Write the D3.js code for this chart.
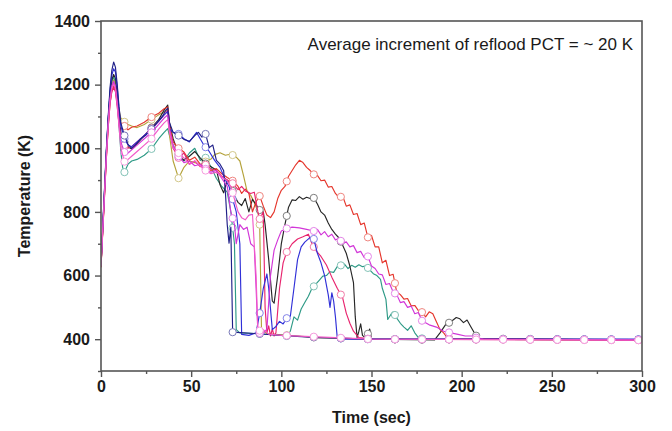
<!DOCTYPE html>
<html>
<head>
<meta charset="utf-8">
<script src="https://cdn.jsdelivr.net/npm/d3@7"></script>
<style>
  body { margin: 0; background: #fff; }
  svg { display: block; font-family: "Liberation Sans", Arial, sans-serif; }
</style>
</head>
<body>
<svg id="chart" width="672" height="431"></svg>
<script>
// ---- data (time in s, cladding temperature in K) ----
const xMajor = [0, 50, 100, 150, 200, 250, 300];
const xMinor = [25, 75, 125, 175, 225, 275];
const yMajor = [400, 600, 800, 1000, 1200, 1400];
const yMinor = [300, 500, 700, 900, 1100, 1300];
const markerTimes = [13, 28, 43, 58, 73, 88, 103, 118, 133, 148, 163, 178, 193, 208, 223, 238, 253, 268, 283, 298];

const tealData = [[0,630],[1,750],[2,870],[3,990],[4,1090],[5,1170],[6,1210],[7,1225],[8,1205],[9,1150],[10,1070],[11,990],[12,940],[13,925],[15,950],[17,960],[20,965],[24,978],[28,998],[32,1030],[35,1050],[37,1062],[38,1040],[40,1010],[43,975],[46,960],[49,985],[52,1000],[55,962],[58,970],[61,942],[64,905],[67,880],[70,862],[72,800],[74,700],[75,430],[77,420],[85,418],[95,414],[103,410],[105,425],[107,470],[109,460],[111,495],[113,515],[115,535],[117,560],[119,572],[121,585],[123,598],[125,600],[127,612],[129,610],[131,628],[133,632],[135,636],[137,622],[139,632],[141,626],[143,634],[145,628],[147,630],[149,618],[151,606],[153,600],[155,588],[156,560],[158,525],[159,462],[161,480],[162,486],[164,466],[166,450],[168,438],[170,428],[172,442],[174,420],[176,405],[180,400],[300,398]];

const oliveData = [[0,628],[1,745],[2,862],[3,980],[4,1080],[5,1160],[6,1200],[7,1215],[8,1200],[9,1160],[10,1120],[11,1095],[13,1083],[15,1075],[17,1070],[20,1065],[24,1075],[28,1090],[32,1105],[35,1115],[37,1122],[38,1040],[40,960],[43,906],[46,940],[49,960],[52,955],[55,948],[58,958],[61,966],[63,980],[66,986],[69,978],[72,982],[75,972],[77,960],[79,915],[81,865],[83,852],[85,830],[87,800],[88,760],[89,430],[92,418],[100,414],[120,405],[150,400],[300,398]];

const blackData = [[0,630],[1,750],[2,870],[3,990],[4,1090],[5,1170],[6,1215],[7,1232],[8,1220],[9,1170],[10,1100],[11,1050],[13,1020],[15,1005],[17,998],[20,1015],[24,1040],[28,1065],[32,1090],[35,1120],[37,1136],[38,1080],[40,1030],[43,982],[46,962],[49,975],[52,990],[55,970],[58,952],[61,942],[64,932],[66,885],[68,860],[70,900],[72,882],[74,850],[76,830],[78,820],[80,842],[82,800],[84,840],[86,822],[88,806],[90,800],[91,760],[93,650],[95,520],[96,513],[98,600],[100,700],[102,760],[104,815],[106,838],[108,836],[110,848],[112,840],[114,846],[116,842],[118,844],[120,825],[122,800],[124,790],[126,765],[128,745],[130,730],[132,718],[134,695],[136,670],[138,630],[140,578],[141,470],[142,405],[143,425],[144,448],[145,412],[147,402],[149,432],[150,400],[185,398],[188,420],[191,445],[194,455],[197,468],[199,464],[201,452],[203,460],[205,440],[207,420],[209,402],[300,398]];

const redData = [[0,625],[1,740],[2,855],[3,970],[4,1065],[5,1140],[6,1180],[7,1196],[8,1185],[9,1140],[10,1100],[11,1078],[13,1070],[15,1058],[17,1066],[20,1070],[24,1082],[28,1098],[32,1110],[35,1124],[37,1130],[38,1070],[40,1020],[43,1000],[46,988],[49,962],[52,972],[55,950],[58,942],[61,930],[64,936],[67,920],[70,908],[73,898],[76,880],[78,858],[80,872],[82,858],[84,800],[86,832],[88,850],[90,818],[92,790],[94,782],[96,800],[98,842],[100,868],[102,880],[104,912],[106,930],[108,948],[110,962],[112,955],[114,940],[116,930],[118,918],[120,915],[122,898],[124,900],[126,878],[128,880],[130,858],[132,845],[134,850],[136,818],[138,822],[140,792],[142,795],[144,760],[146,765],[148,720],[150,726],[152,690],[154,690],[156,640],[158,648],[160,600],[162,604],[164,548],[166,540],[168,526],[170,528],[172,505],[174,506],[176,490],[178,485],[180,470],[182,486],[184,480],[186,455],[188,430],[190,420],[192,405],[195,400],[300,398]];

const magentaData = [[0,632],[1,748],[2,865],[3,982],[4,1080],[5,1155],[6,1195],[7,1210],[8,1195],[9,1145],[10,1080],[11,1020],[13,988],[15,985],[17,995],[20,1010],[24,1030],[28,1050],[32,1075],[35,1095],[37,1105],[38,1060],[40,1010],[43,975],[46,955],[49,960],[52,945],[55,950],[58,935],[61,925],[64,930],[67,905],[70,880],[72,800],[74,760],[75,700],[77,760],[79,745],[81,752],[83,700],[85,690],[86,560],[87,420],[90,418],[92,432],[94,600],[96,680],[98,712],[100,740],[103,748],[106,752],[110,750],[114,745],[118,740],[120,745],[122,728],[124,738],[126,722],[128,730],[130,712],[132,718],[134,700],[136,706],[138,690],[140,694],[142,672],[144,676],[146,656],[148,660],[150,630],[152,622],[154,605],[156,602],[158,572],[160,575],[162,548],[164,540],[166,515],[168,518],[170,500],[172,504],[174,480],[176,484],[178,458],[182,445],[186,438],[190,425],[194,420],[198,415],[202,410],[206,410],[209,402],[212,400],[300,398]];

const crimsonData = [[0,628],[1,742],[2,857],[3,972],[4,1068],[5,1140],[6,1178],[7,1190],[8,1178],[9,1130],[10,1075],[11,1035],[13,1010],[15,1000],[17,1005],[20,1020],[24,1040],[28,1062],[32,1085],[35,1105],[37,1118],[38,1060],[40,1000],[43,970],[46,985],[49,950],[52,960],[55,942],[58,948],[61,935],[64,930],[67,912],[70,900],[73,890],[76,870],[78,880],[80,866],[83,858],[85,862],[87,800],[88,778],[90,800],[91,500],[92,420],[93,442],[94,410],[95,432],[96,410],[97,420],[99,560],[101,640],[103,674],[106,700],[109,715],[112,722],[115,730],[117,700],[119,680],[122,660],[125,633],[128,595],[131,560],[134,530],[136,482],[138,450],[140,425],[143,405],[150,400],[300,397]];

const blueData = [[0,635],[1,755],[2,875],[3,995],[4,1095],[5,1180],[6,1230],[7,1250],[8,1240],[9,1190],[10,1120],[11,1070],[13,1030],[15,1010],[17,1005],[20,1020],[24,1040],[28,1060],[32,1085],[35,1105],[37,1115],[38,1060],[40,1050],[43,1045],[46,1030],[49,1020],[51,1035],[53,1050],[55,1030],[57,1010],[60,990],[63,962],[66,940],[69,900],[71,880],[73,840],[75,800],[77,700],[78,415],[82,412],[86,420],[88,482],[90,560],[92,605],[93,560],[95,430],[97,440],[99,456],[101,448],[103,466],[105,472],[107,560],[109,650],[111,690],[113,705],[116,720],[118,715],[120,670],[122,640],[124,600],[126,540],[127,500],[128,546],[129,520],[130,470],[131,405],[135,400],[300,400]];

const navyData = [[0,640],[1,760],[2,880],[3,1000],[4,1100],[5,1190],[6,1245],[7,1271],[8,1255],[9,1200],[10,1130],[11,1080],[13,1040],[15,1012],[17,1000],[19,1010],[22,1030],[25,1042],[28,1060],[31,1080],[34,1100],[36,1120],[37,1126],[38,1080],[40,1050],[43,1040],[46,1028],[49,1022],[52,1040],[54,1050],[56,1035],[58,1045],[60,1002],[62,1010],[64,962],[66,950],[68,930],[69,860],[70,760],[71,702],[72,752],[73,422],[85,418],[100,412],[120,405],[150,400],[300,399]];

const hotpinkData = [[0,630],[1,746],[2,862],[3,978],[4,1075],[5,1150],[6,1188],[7,1202],[8,1188],[9,1135],[10,1068],[11,1000],[13,958],[15,965],[17,975],[20,990],[24,1010],[28,1030],[32,1060],[35,1080],[37,1090],[38,1050],[40,1000],[43,985],[46,970],[49,950],[52,960],[55,945],[58,930],[61,920],[64,925],[67,910],[70,898],[72,880],[74,840],[76,800],[78,782],[80,775],[82,790],[84,792],[86,600],[87,425],[90,430],[93,416],[100,412],[130,405],[150,400],[300,397]];

const seriesList = [
    { name: "teal", color: "#2e9a86", data: tealData },
    { name: "olive", color: "#b4a23a", data: oliveData },
    { name: "black", color: "#262626", data: blackData },
    { name: "red", color: "#e5362c", data: redData },
    { name: "crimson", color: "#e8246e", data: crimsonData },
    { name: "blue", color: "#3030d8", data: blueData },
    { name: "navy", color: "#202088", data: navyData },
    { name: "magenta", color: "#d236d8", data: magentaData },
    { name: "hotpink", color: "#f25ac8", data: hotpinkData }
];

// ---- layout ----
const margin = { top: 21, right: 30, bottom: 60, left: 101 };
const width = 672, height = 431;
const svg = d3.select("#chart");

const x = d3.scaleLinear().domain([0, 300]).range([margin.left, width - margin.right]);
const y = d3.scaleLinear().domain([300, 1400]).range([height - margin.bottom, margin.top]);

const axisColor = "#555";

// value of a series at time t (for the open-circle markers)
function valueAt(data, t) {
    let i = d3.bisector(d => d[0]).left(data, t);
    if (i <= 0) return data[0][1];
    if (i >= data.length) return data[data.length - 1][1];
    let a = data[i - 1], b = data[i];
    return a[1] + (b[1] - a[1]) * (t - a[0]) / (b[0] - a[0]);
}

const line = d3.line().x(d => x(d[0])).y(d => y(d[1]));

// clip so nothing leaks over the frame
svg.append("clipPath").attr("id", "clip")
    .append("rect")
    .attr("x", x(0)).attr("y", y(1400))
    .attr("width", x(300) - x(0)).attr("height", y(300) - y(1400));

const plot = svg.append("g").attr("clip-path", "url(#clip)");

seriesList.forEach(s => {
    plot.append("path")
        .datum(s.data)
        .attr("fill", "none")
        .attr("stroke", s.color)
        .attr("stroke-width", 1.15)
        .attr("stroke-linejoin", "round")
        .attr("d", line);

    let light = d3.interpolateRgb(s.color, "#ffffff")(0.4);
    plot.selectAll(null)
        .data(markerTimes)
        .enter()
        .append("circle")
        .attr("cx", t => x(t))
        .attr("cy", t => y(valueAt(s.data, t)))
        .attr("r", 3.6)
        .attr("fill", "#fff")
        .attr("stroke", light)
        .attr("stroke-width", 1);
});

// ---- axes ----
const xAxisG = svg.append("g").attr("transform", `translate(0,${y(300)})`);
xAxisG.call(d3.axisBottom(x).tickValues(xMajor).tickSize(6).tickPadding(4).tickFormat(d3.format("d")));
xAxisG.append("g").call(d3.axisBottom(x).tickValues(xMinor).tickSize(3).tickFormat(""));

const yAxisG = svg.append("g").attr("transform", `translate(${x(0)},0)`);
yAxisG.call(d3.axisLeft(y).tickValues(yMajor).tickSize(6).tickPadding(5).tickFormat(d3.format("d")));
yAxisG.append("g").call(d3.axisLeft(y).tickValues(yMinor).tickSize(3).tickFormat(""));

svg.selectAll(".domain").remove();
svg.selectAll(".tick line").attr("stroke", axisColor).attr("stroke-width", 1.4);
svg.selectAll(".tick text")
    .attr("fill", "#1a1a1a")
    .style("font-size", "16px")
    .style("font-weight", "bold")
    .style("font-family", "'Liberation Sans', Arial, sans-serif");

// frame
svg.append("rect")
    .attr("x", x(0)).attr("y", y(1400))
    .attr("width", x(300) - x(0)).attr("height", y(300) - y(1400))
    .attr("fill", "none")
    .attr("stroke", axisColor)
    .attr("stroke-width", 1.6);

// ---- labels ----
svg.append("text")
    .attr("x", (x(0) + x(300)) / 2)
    .attr("y", 423)
    .attr("text-anchor", "middle")
    .attr("font-size", "16px")
    .attr("font-weight", "bold")
    .attr("fill", "#1a1a1a")
    .text("Time (sec)");

svg.append("text")
    .attr("transform", `translate(30,${(y(300) + y(1400)) / 2}) rotate(-90)`)
    .attr("text-anchor", "middle")
    .attr("font-size", "16px")
    .attr("font-weight", "bold")
    .attr("fill", "#1a1a1a")
    .text("Temperature (K)");

svg.append("text")
    .attr("x", 633)
    .attr("y", 50)
    .attr("text-anchor", "end")
    .attr("font-size", "17px")
    .attr("fill", "#1a1a1a")
    .text("Average increment of reflood PCT = ~ 20 K");
</script>
</body>
</html>
